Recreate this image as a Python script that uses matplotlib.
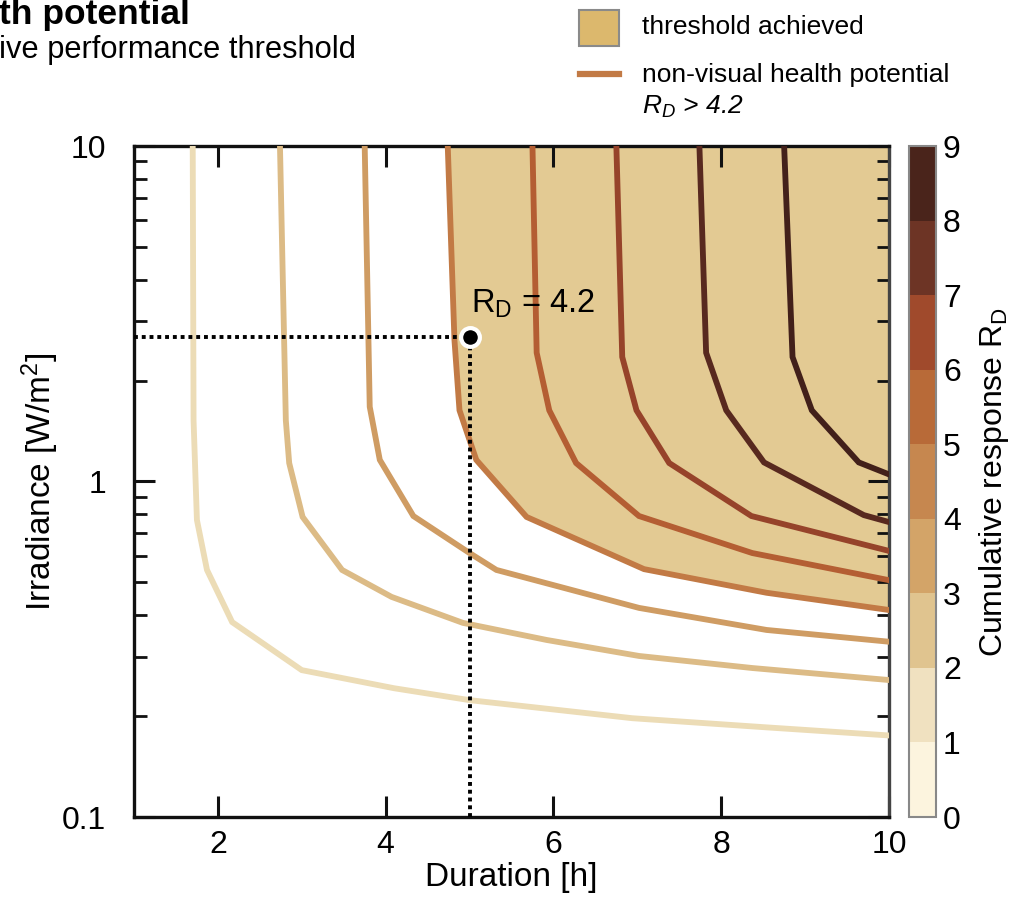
import matplotlib
matplotlib.use("Agg")
import matplotlib.pyplot as plt
import numpy as np
from matplotlib.colors import ListedColormap, BoundaryNorm
from matplotlib.cm import ScalarMappable
from matplotlib.patches import Rectangle
from matplotlib.lines import Line2D

plt.rcParams['font.family'] = ['Liberation Sans', 'DejaVu Sans']
plt.rcParams['mathtext.fontset'] = 'custom'
plt.rcParams['mathtext.rm'] = 'Liberation Sans'
plt.rcParams['mathtext.it'] = 'Liberation Sans:italic'

# ---- data: iso-response contour lines (duration [h], irradiance [W/m2]) ----
levels = [1, 2, 3, 4, 5, 6, 7, 8]
L1_x = [1.70, 1.71, 1.75, 1.87, 2.17, 3.00, 4.10, 5.00, 6.94, 8.54, 10.0]
L1_y = [10, 1.52, 0.768, 0.545, 0.381, 0.274, 0.242, 0.223, 0.197, 0.185, 0.175]
L2_x = [2.74, 2.81, 2.85, 3.01, 3.48, 4.07, 4.92, 5.92, 7.02, 8.37, 10.0]
L2_y = [10, 1.52, 1.135, 0.784, 0.545, 0.453, 0.379, 0.337, 0.302, 0.278, 0.256]
L3_x = [3.75, 3.81, 3.93, 4.33, 5.00, 5.32, 7.02, 8.54, 10.0]
L3_y = [10, 1.67, 1.16, 0.789, 0.612, 0.545, 0.420, 0.361, 0.333]
L4_x = [4.74, 4.82, 4.88, 5.08, 5.68, 7.08, 8.54, 10.0]
L4_y = [10, 2.64, 1.63, 1.16, 0.784, 0.548, 0.466, 0.414]
L5_x = [5.75, 5.80, 5.95, 6.27, 7.02, 8.37, 10.0]
L5_y = [10, 2.42, 1.63, 1.135, 0.789, 0.612, 0.508]
L6_x = [6.75, 6.82, 6.99, 7.38, 8.36, 10.0]
L6_y = [10, 2.35, 1.63, 1.135, 0.789, 0.621]
L7_x = [7.74, 7.82, 8.06, 8.51, 9.70, 10.0]
L7_y = [10, 2.42, 1.63, 1.14, 0.794, 0.757]
L8_x = [8.75, 8.85, 9.08, 9.64, 10.0]
L8_y = [10, 2.35, 1.63, 1.14, 1.05]
lines_x = [L1_x, L2_x, L3_x, L4_x, L5_x, L6_x, L7_x, L8_x]
lines_y = [L1_y, L2_y, L3_y, L4_y, L5_y, L6_y, L7_y, L8_y]

threshold_line = 4  # index of the R_D > 4.2 boundary (level 4 curve)
point_duration = 5.0
point_irradiance = 2.70
point_label = "4.2"

cbar_ticks = [0, 1, 2, 3, 4, 5, 6, 7, 8, 9]
band_colors = ['#fcf4de', '#f0e1c0', '#e0c48f', '#d3a468', '#c6874f',
               '#b86a38', '#a04a2c', '#6d3425', '#4a241b']
line_colors = ['#ecdcb6', '#dcbb86', '#cf9c63', '#c27a45', '#b45e33',
               '#96432a', '#58291f', '#42201a']
fill_color = '#e3ca93'

# ---- figure ----
W, H = 1013, 897
fig = plt.figure(figsize=(W / 100, H / 100), dpi=100)

def px_rect(x0, y0, x1, y1):
    return [x0 / W, 1 - y1 / H, (x1 - x0) / W, (y1 - y0) / H]

ax = fig.add_axes(px_rect(134, 146, 889, 817))
ax.set_xscale('linear')
ax.set_yscale('log')
ax.set_xlim(1, 10)
ax.set_ylim(0.1, 10)

# threshold achieved region
ti = threshold_line - 1
ax.fill_betweenx(lines_y[ti], lines_x[ti], 10, color=fill_color, lw=0, zorder=1)

for xs, ys, c in zip(lines_x, lines_y, line_colors):
    ax.plot(xs, ys, color=c, lw=4.2, solid_joinstyle='miter', zorder=3)

# reference point and dotted guides
ax.plot([1, point_duration], [point_irradiance, point_irradiance], color='k',
        lw=2.8, ls=(0, (1.0, 1.0)), zorder=4)
ax.plot([point_duration, point_duration], [0.1, point_irradiance], color='k',
        lw=2.8, ls=(0, (1.0, 1.0)), zorder=4)
ax.plot([point_duration], [point_irradiance], 'o', ms=13.5, mfc='k', mec='white',
        mew=3, zorder=6)
ax.text(5.02, 3.18, r"R$_{\mathregular{D}}$ = " + point_label, fontsize=23.5,
        va='baseline', ha='left', zorder=7)

ax.set_xticks([2, 4, 6, 8, 10])
ax.set_xticklabels(['2', '4', '6', '8', '10'])
ax.set_yticks([0.1, 1, 10])
ax.set_yticklabels(['0.1', '1', '10'])
ax.tick_params(axis='both', which='major', direction='in', length=15, width=2.2,
               labelsize=23, top=True, right=True, color='#111111')
ax.tick_params(axis='x', which='major', pad=9)
ax.tick_params(axis='y', which='major', pad=20)
ax.tick_params(axis='y', which='minor', direction='in', length=9, width=2.0,
               left=True, right=True, color='#111111')
ax.tick_params(axis='x', which='minor', bottom=False, top=False)
for s in ax.spines.values():
    s.set_linewidth(2.4)
    s.set_color('#111111')
ax.spines['right'].set_color('#444444')
ax.set_xlabel('Duration [h]', fontsize=24, labelpad=2)
ax.set_ylabel('Irradiance [W/m$^{\\mathregular{2}}$]', fontsize=24, labelpad=1)

# colorbar
cax = fig.add_axes(px_rect(909, 146, 936, 817))
cmap = ListedColormap(band_colors)
norm = BoundaryNorm(cbar_ticks, cmap.N)
cb = fig.colorbar(ScalarMappable(norm=norm, cmap=cmap), cax=cax, ticks=cbar_ticks)
cb.outline.set_edgecolor('#888888')
cb.outline.set_linewidth(1.5)
cax.tick_params(length=0, labelsize=23, pad=5)
cb.set_label(r'Cumulative response R$_{\mathregular{D}}$', fontsize=23, labelpad=12)

# overlay for title/legend texts in pixel coordinates
ov = fig.add_axes([0, 0, 1, 1])
ov.set_xlim(0, W)
ov.set_ylim(H, 0)
ov.axis('off')
ov.text(-1, 24, 'th potential', fontsize=25.5, fontweight='bold', va='baseline', ha='left')
ov.text(-1, 58, 'ive performance threshold', fontsize=22.2, va='baseline', ha='left')
ov.add_patch(Rectangle((579, 10), 40, 36, fc='#dcb86d', ec='#8a8a8a', lw=1.5))
ov.text(642, 27, 'threshold achieved', fontsize=19, va='center', ha='left')
ov.add_line(Line2D([580, 619], [74, 74], color=line_colors[3], lw=4.5))
ov.text(642, 75, 'non-visual health potential', fontsize=19, va='center', ha='left')
ov.text(642, 107, r'R$_{\mathregular{D}}$ > 4.2', fontsize=19, va='center', ha='left',
        fontstyle='italic')

fig.savefig('out.png', dpi=100)
